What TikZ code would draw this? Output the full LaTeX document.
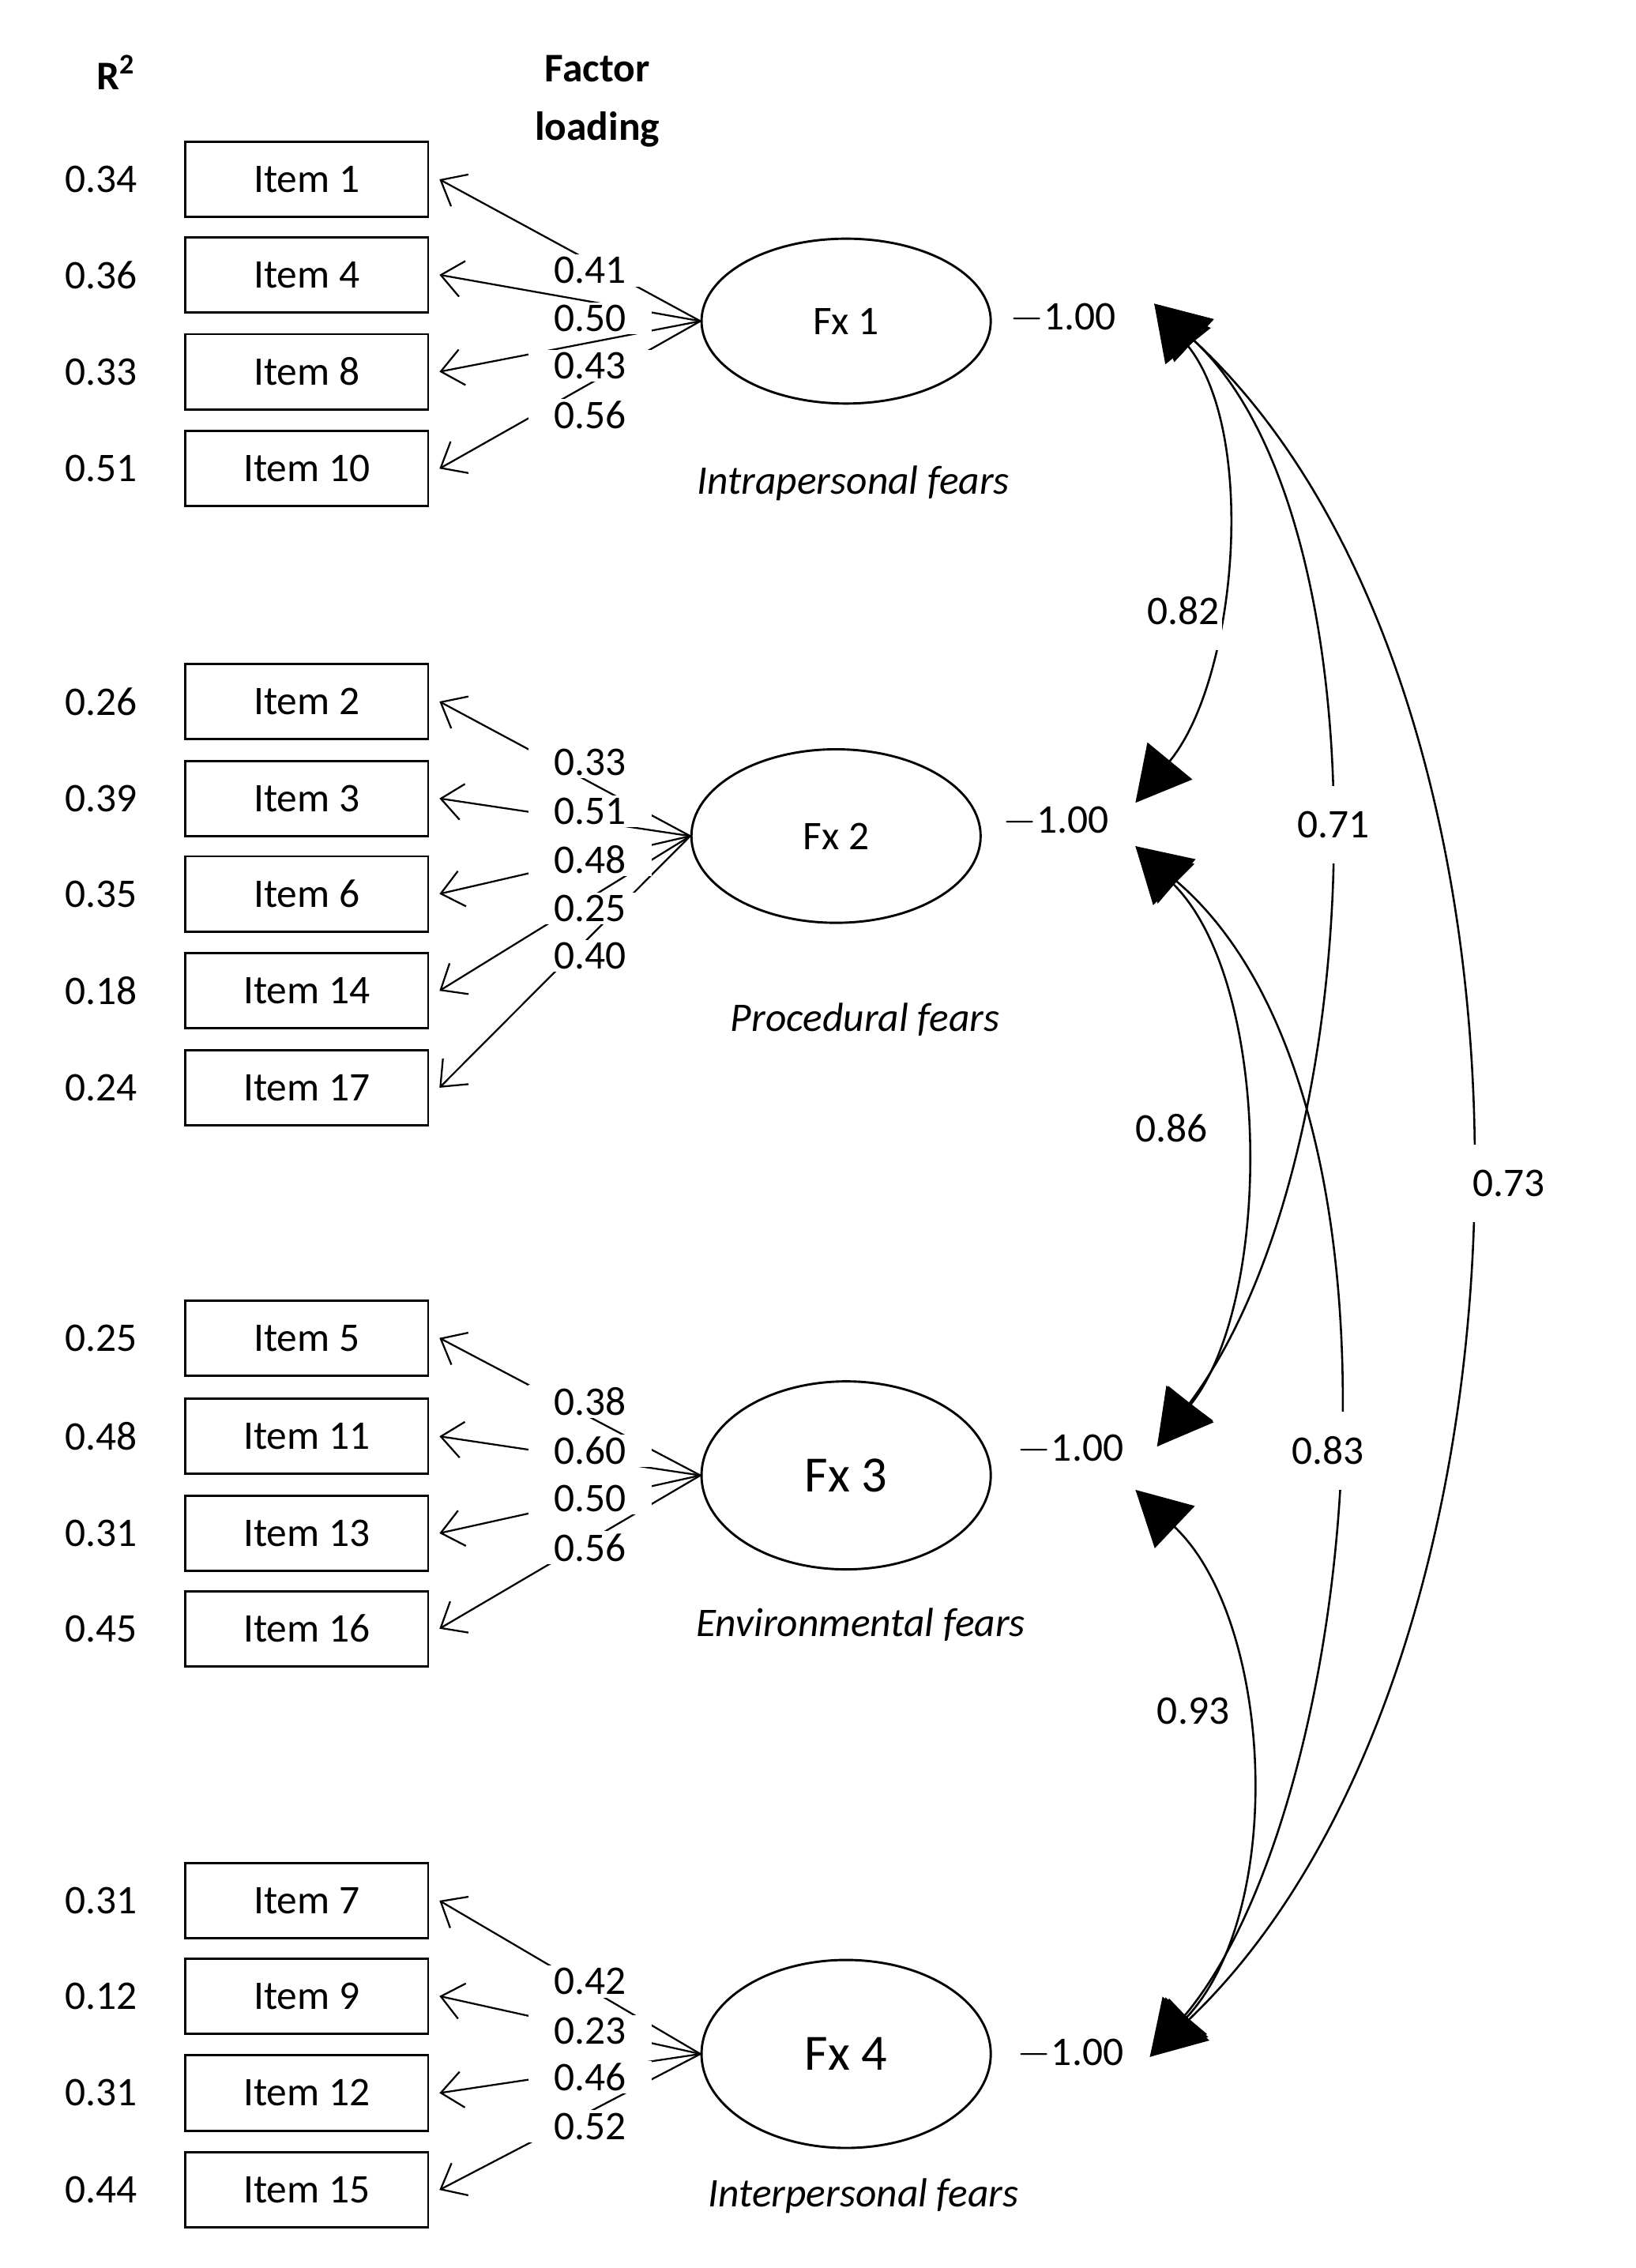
\documentclass[tikz,border=0pt]{standalone}
\usepackage{fontspec}
\setmainfont{Carlito}
\usetikzlibrary{arrows.meta,shapes.geometric}
\begin{document}
\begin{tikzpicture}[x=0.02cm,y=-0.02cm,
  every node/.style={font=\fontsize{16}{19}\selectfont},
  box/.style={draw,line width=0.9pt,minimum width=3.36cm,minimum height=1.04cm,inner sep=0pt},
  lat/.style={draw,line width=0.9pt,ellipse,minimum width=4cm,inner sep=0pt},
  load/.style={line width=0.7pt,-{Straight Barb[length=3mm,width=5mm]}},
  lab/.style={fill=white,inner sep=1pt},
  cov/.style={line width=0.8pt,{Triangle[length=0.75cm,width=0.8cm]}-{Triangle[length=0.75cm,width=0.8cm]}},
  big/.style={font=\fontsize{20}{24}\selectfont}]
\useasboundingbox (0,0) rectangle (1131,1568);
\node[font=\fontsize{16}{19}\selectfont\bfseries] (hr) at (80,50) {R\textsuperscript{2}};
\node[font=\fontsize{16}{19}\selectfont\bfseries,align=center] (hf) at (413,70) {Factor\\[4pt]loading};
% boxes
\foreach \n/\y/\r in {1/124/0.34,4/190/0.36,8/257/0.33,10/324/0.51,
  2/485/0.26,3/552/0.39,6/618/0.35,14/685/0.18,17/752/0.24,
  5/925/0.25,11/993/0.48,13/1060/0.31,16/1126/0.45,
  7/1314/0.31,9/1380/0.12,12/1447/0.31,15/1514/0.44}{
  \node[box] (i\n) at (212,\y) {Item \n};
  \node (r\n) at (70,\y) {\r};
}
% latent
\node[lat,minimum height=2.28cm] (f1) at (585,222) {Fx 1};
\node[lat,minimum height=2.4cm] (f2) at (578,578) {Fx 2};
\node[lat,minimum height=2.6cm,big] (f3) at (585,1020) {Fx 3};
\node[lat,minimum height=2.6cm,big] (f4) at (585,1420) {Fx 4};
\node[font=\fontsize{16}{19}\selectfont\itshape] (t1) at (590,334) {Intrapersonal fears};
\node[font=\fontsize{16}{19}\selectfont\itshape] (t2) at (598,705) {Procedural fears};
\node[font=\fontsize{16}{19}\selectfont\itshape] (t3) at (595,1123) {Environmental fears};
\node[font=\fontsize{16}{19}\selectfont\itshape] (t4) at (597,1518) {Interpersonal fears};
% loadings
\foreach \f/\i in {1/1,1/4,1/8,1/10,2/2,2/3,2/6,2/14,2/17,3/5,3/11,3/13,3/16,4/7,4/9,4/12,4/15}
  \draw[load] (f\f.west) -- ([xshift=4pt]i\i.east);
\foreach \v/\y in {0.41/187,0.50/220,0.43/253,0.56/287,
  0.33/527,0.51/561,0.48/594,0.25/628,0.40/661,
  0.38/969,0.60/1003,0.50/1036,0.56/1070,
  0.42/1370,0.23/1404,0.46/1436,0.52/1470}
  \node[lab,inner xsep=10pt] at (408,\y) {\v};
% variances
\node (v1) at (735,220) {$-$1.00};
\node (v2) at (730,568) {$-$1.00};
\node (v3) at (740,1002) {$-$1.00};
\node (v4) at (740,1420) {$-$1.00};
\coordinate (a1) at (798,210);
\coordinate (a2u) at (785,555);
\coordinate (a2l) at (785,585);
\coordinate (a3u) at (800,1000);
\coordinate (a3l) at (785,1030);
\coordinate (a4) at (795,1422);
% covariances
\draw[cov] (a1) .. controls (870,300) and (855,470) .. (a2u);
\draw[cov] (a1) .. controls (960,360) and (950,800) .. (a3u);
\draw[cov] (a1) .. controls (1090,480) and (1080,1150) .. (a4);
\draw[cov] (a2l) .. controls (880,680) and (880,900) .. (a3u);
\draw[cov] (a2l) .. controls (990,760) and (940,1250) .. (a4);
\draw[cov] (a3l) .. controls (880,1120) and (890,1320) .. (a4);
\node[lab,inner ysep=10pt] (c1) at (818,422) {0.82};
\node[lab,inner ysep=10pt] (c2) at (922,570) {0.71};
\node[lab,inner ysep=10pt] (c3) at (1043,818) {0.73};
\node[lab,inner ysep=10pt] (c4) at (810,780) {0.86};
\node[lab,inner ysep=10pt] (c5) at (918,1003) {0.83};
\node[lab,inner ysep=10pt] (c6) at (825,1183) {0.93};
\end{tikzpicture}
\end{document}
